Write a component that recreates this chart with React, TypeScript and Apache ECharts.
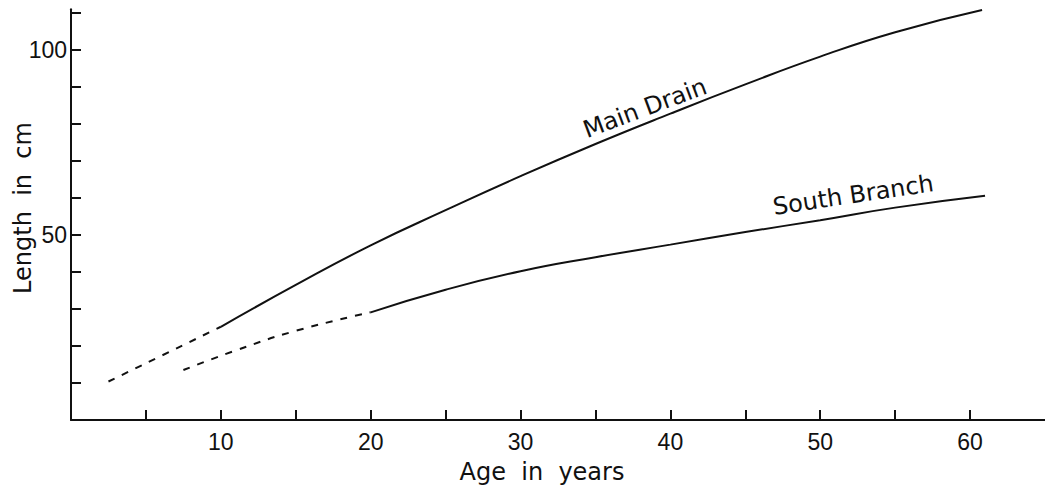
import React, { useEffect, useRef } from "react";
import * as echarts from "echarts";

// Age (years) vs length (cm)
const mainDrainDashed: number[][] = [[2.5, 10.4], [6, 17.3], [10, 25.2]];
const mainDrainSolid: number[][] = [
  [10, 25.2], [15, 36.5], [20, 47.2], [25, 56.7], [30, 65.9], [35, 74.6],
  [40, 82.8], [45, 90.7], [50, 98.2], [55, 104.8], [60.8, 110.8],
];
const southDashed: number[][] = [[7.5, 13.5], [11, 18.8], [15, 24.1], [20, 29.1]];
const southSolid: number[][] = [
  [20, 29.1], [25, 35.2], [30, 40.2], [35, 44.0], [40, 47.4], [45, 50.8],
  [50, 54.0], [55, 57.4], [61, 60.6],
];
const xTickValues = [5, 10, 15, 20, 25, 30, 35, 40, 45, 50, 55, 60];
const xLabelValues = [10, 20, 30, 40, 50, 60];
const yTickValues = [10, 20, 30, 40, 50, 60, 70, 80, 90, 100, 110];
const yLabelValues = [50, 100];

const INK = "#111";
const FONT = '"DejaVu Sans", sans-serif';

export default function App() {
  const ref = useRef<HTMLDivElement>(null);
  useEffect(() => {
    if (!ref.current) return;
    const chart = echarts.init(ref.current, undefined, { renderer: "svg" });
    const lineStyle = (dashed: boolean) => ({
      color: INK,
      width: 2,
      type: dashed ? [7, 8] : "solid",
    });
    const mk = (name: string, data: number[][], dashed: boolean) => ({
      type: "line",
      name,
      data,
      smooth: true,
      showSymbol: false,
      symbol: "none",
      lineStyle: lineStyle(dashed),
      silent: true,
    });
    const axisCommon = {
      type: "value",
      splitLine: { show: false },
      axisLine: { show: true, onZero: false, lineStyle: { color: INK, width: 2 } },
      axisTick: { show: true, inside: true, length: 10, lineStyle: { color: INK, width: 2 } },
    };
    chart.setOption({
      animation: false,
      backgroundColor: "#fff",
      grid: { left: 71, right: -7.5, top: 9.3, bottom: 72, containLabel: false },
      xAxis: {
        ...axisCommon,
        min: 0,
        max: 65,
        axisTick: { ...axisCommon.axisTick, customValues: xTickValues },
        axisLabel: {
          customValues: xLabelValues,
          margin: 10,
          color: INK,
          fontFamily: '"Liberation Sans", sans-serif',
          fontSize: 23,
        },
      },
      yAxis: {
        ...axisCommon,
        min: 0,
        max: 111,
        axisTick: { ...axisCommon.axisTick, customValues: yTickValues },
        axisLabel: {
          customValues: yLabelValues,
          margin: 4,
          color: INK,
          fontFamily: '"Liberation Sans", sans-serif',
          fontSize: 23,
        },
      },
      series: [
        mk("Main Drain (extrapolated)", mainDrainDashed, true),
        mk("Main Drain", mainDrainSolid, false),
        mk("South Branch (extrapolated)", southDashed, true),
        mk("South Branch", southSolid, false),
      ],
    });
    const p1 = chart.convertToPixel({ gridIndex: 0 }, [38.3, 84.3]) as number[];
    const p2 = chart.convertToPixel({ gridIndex: 0 }, [52.2, 60.8]) as number[];
    const txt = (text: string, x: number, y: number, rot: number) => ({
      type: "text",
      x,
      y,
      rotation: (rot * Math.PI) / 180,
      style: {
        text,
        fill: INK,
        font: `24px ${FONT}`,
        textAlign: "center",
        textVerticalAlign: "middle",
      },
      silent: true,
    });
    chart.setOption({
      graphic: [
        txt("Main Drain", p1[0], p1[1], 20.5),
        txt("South Branch", p2[0], p2[1], 8.5),
        txt("Age  in  years", 542, 472, 0),
        txt("Length  in  cm", 22.5, 208, 90),
      ],
    });
    return () => chart.dispose();
  }, []);
  return (
    <div
      ref={ref}
      style={{ position: "fixed", left: 0, top: 0, width: 1045, height: 492, background: "#fff" }}
    />
  );
}
